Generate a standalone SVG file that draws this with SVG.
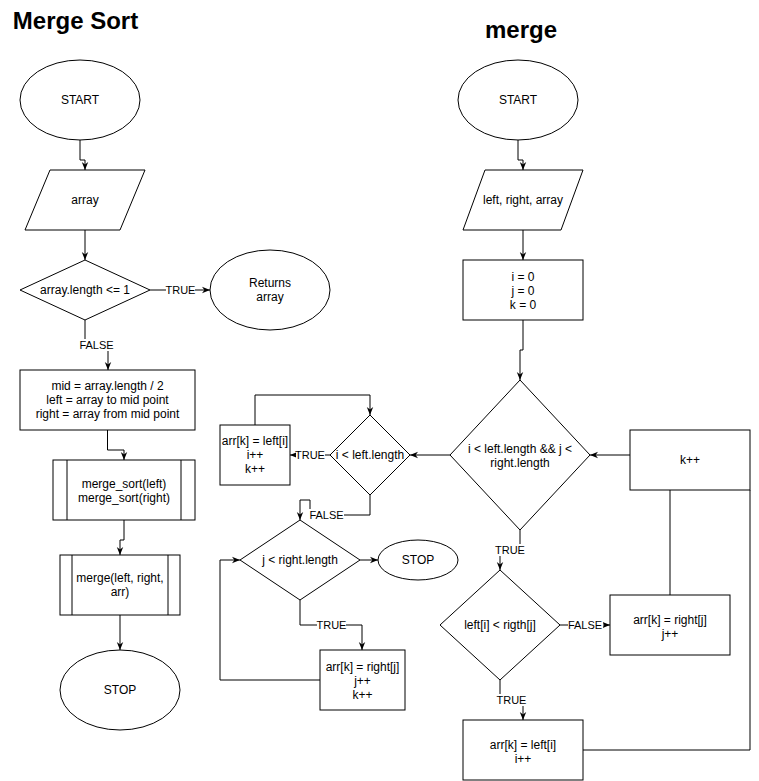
<svg xmlns="http://www.w3.org/2000/svg" width="759" height="781" viewBox="0 0 759 781">
<style>
.s{fill:#fff;stroke:#000;stroke-width:1}
.t{font-family:"Liberation Sans",Arial,sans-serif;font-size:12px;fill:#000;text-anchor:middle}
.h{font-family:"Liberation Sans",Arial,sans-serif;font-size:24px;font-weight:bold;fill:#000;text-anchor:middle}
.c{fill:none;stroke:#000;stroke-width:1}
.a{marker-end:url(#arr)}
.lb{fill:#fff;stroke:none}
.l{font-family:"Liberation Sans",Arial,sans-serif;font-size:11px;fill:#000;text-anchor:middle}
</style>
<defs>
<marker id="arr" viewBox="0 0 10 10" refX="10" refY="5" markerWidth="8" markerHeight="8" markerUnits="userSpaceOnUse" orient="auto">
<path d="M0,1 L10,5 L0,9 L3,5 z" fill="#000"/>
</marker>
</defs>
<rect width="759" height="781" fill="#fff"/>
<text class="h" x="75.5" y="29">Merge Sort</text>
<text class="h" x="521" y="38">merge</text>

<g id="connectors">
<path class="c a" d="M80,140 V160 H85 V170"/>
<path class="c a" d="M85,230 V260"/>
<path class="c a" d="M150,290 H210"/>
<path class="c a" d="M85,320 V345 H108 V370"/>
<path class="c a" d="M107.5,430 V450 H124 V460"/>
<path class="c a" d="M124,520 V540 H120 V555"/>
<path class="c a" d="M120,615 V650"/>
<path class="c a" d="M518,140 V160 H523 V170"/>
<path class="c a" d="M523,230 V260"/>
<path class="c a" d="M523,320 V350 H520 V380"/>
<path class="c a" d="M630,455 H590"/>
<path class="c a" d="M450,455 H410"/>
<path class="c a" d="M330,455 H290"/>
<path class="c a" d="M255,425 V395 H370 V415"/>
<path class="c a" d="M370,495 V515 H310 V500 H300 V520"/>
<path class="c a" d="M360,560 H378"/>
<path class="c a" d="M300,600 V625 H362 V650"/>
<path class="c a" d="M320,680 H220 V560 H240"/>
<path class="c a" d="M520,530 V550 H500 V570"/>
<path class="c a" d="M560,625 H610"/>
<path class="c a" d="M500,680 V700 H523 V720"/>
<path class="c" d="M670,595 V490"/>
<path class="c" d="M583,750 H750 V490"/>
<rect class="lb" x="166" y="284" width="29" height="12"/><text class="l" x="180.5" y="294">TRUE</text>
<rect class="lb" x="79" y="339" width="35" height="12"/><text class="l" x="96.5" y="349">FALSE</text>
<rect class="lb" x="296" y="449" width="29" height="12"/><text class="l" x="310" y="459">TRUE</text>
<rect class="lb" x="309" y="509" width="35" height="12"/><text class="l" x="326.5" y="519">FALSE</text>
<rect class="lb" x="317" y="619" width="29" height="12"/><text class="l" x="331.5" y="629">TRUE</text>
<rect class="lb" x="496" y="544" width="29" height="12"/><text class="l" x="510" y="554">TRUE</text>
<rect class="lb" x="568" y="619" width="35" height="12"/><text class="l" x="585" y="629">FALSE</text>
<rect class="lb" x="497" y="694" width="29" height="12"/><text class="l" x="511.5" y="704">TRUE</text>
</g>

<g id="start1"><ellipse class="s" cx="80" cy="100" rx="60" ry="40"/><text class="t" x="80" y="104">START</text></g>
<g id="input1"><polygon class="s" points="50,170 145,170 120,230 25,230"/><text class="t" x="85" y="204">array</text></g>
<g id="cond1"><polygon class="s" points="85,260 150,290 85,320 20,290"/><text class="t" x="85" y="294">array.length &lt;= 1</text></g>
<g id="returns"><ellipse class="s" cx="270" cy="290" rx="60" ry="40"/><text class="t" x="270" y="287">Returns</text><text class="t" x="270" y="301">array</text></g>
<g id="split"><rect class="s" x="20" y="370" width="175" height="60"/><text class="t" x="107.5" y="390">mid = array.length / 2</text><text class="t" x="107.5" y="404">left = array to mid point</text><text class="t" x="107.5" y="418">right = array from mid point</text></g>
<g id="recurse"><rect class="s" x="53" y="460" width="142" height="60"/><line class="c" x1="67" y1="460" x2="67" y2="520"/><line class="c" x1="181" y1="460" x2="181" y2="520"/><text class="t" x="124" y="488">merge_sort(left)</text><text class="t" x="124" y="502">merge_sort(right)</text></g>
<g id="mergecall"><rect class="s" x="60" y="555" width="120" height="60"/><line class="c" x1="72" y1="555" x2="72" y2="615"/><line class="c" x1="168" y1="555" x2="168" y2="615"/><text class="t" x="120" y="582">merge(left, right,</text><text class="t" x="120" y="596">arr)</text></g>
<g id="stop1"><ellipse class="s" cx="120" cy="690" rx="60" ry="40"/><text class="t" x="120" y="694">STOP</text></g>

<g id="start2"><ellipse class="s" cx="518" cy="100" rx="60" ry="40"/><text class="t" x="518" y="104">START</text></g>
<g id="input2"><polygon class="s" points="485,170 583,170 561,230 463,230"/><text class="t" x="523" y="204">left, right, array</text></g>
<g id="init"><rect class="s" x="463" y="260" width="120" height="60"/><text class="t" x="523" y="281">i = 0</text><text class="t" x="523" y="295">j = 0</text><text class="t" x="523" y="309">k = 0</text></g>
<g id="cond2"><polygon class="s" points="520,380 590,455 520,530 450,455"/><text class="t" x="520" y="453">i &lt; left.length &amp;&amp; j &lt;</text><text class="t" x="520" y="467">right.length</text></g>
<g id="kinc"><rect class="s" x="630" y="430" width="120" height="60"/><text class="t" x="690" y="464">k++</text></g>
<g id="cond3"><polygon class="s" points="500,570 560,625 500,680 440,625"/><text class="t" x="500" y="629">left[i] &lt; rigth[j]</text></g>
<g id="takeright"><rect class="s" x="610" y="595" width="120" height="60"/><text class="t" x="670" y="624">arr[k] = right[j]</text><text class="t" x="670" y="638">j++</text></g>
<g id="takeleft"><rect class="s" x="463" y="720" width="120" height="60"/><text class="t" x="523" y="749">arr[k] = left[i]</text><text class="t" x="523" y="763">i++</text></g>
<g id="cond4"><polygon class="s" points="370,415 410,455 370,495 330,455"/><text class="t" x="370" y="459">i &lt; left.length</text></g>
<g id="restleft"><rect class="s" x="220" y="425" width="70" height="60"/><text class="t" x="255" y="445">arr[k] = left[i]</text><text class="t" x="255" y="459">i++</text><text class="t" x="255" y="473">k++</text></g>
<g id="cond5"><polygon class="s" points="300,520 360,560 300,600 240,560"/><text class="t" x="300" y="564">j &lt; right.length</text></g>
<g id="stop2"><ellipse class="s" cx="418" cy="560" rx="40" ry="20"/><text class="t" x="418" y="564">STOP</text></g>
<g id="restright"><rect class="s" x="320" y="650" width="85" height="60"/><text class="t" x="362.5" y="671">arr[k] = right[j]</text><text class="t" x="362.5" y="685">j++</text><text class="t" x="362.5" y="699">k++</text></g>
</svg>
